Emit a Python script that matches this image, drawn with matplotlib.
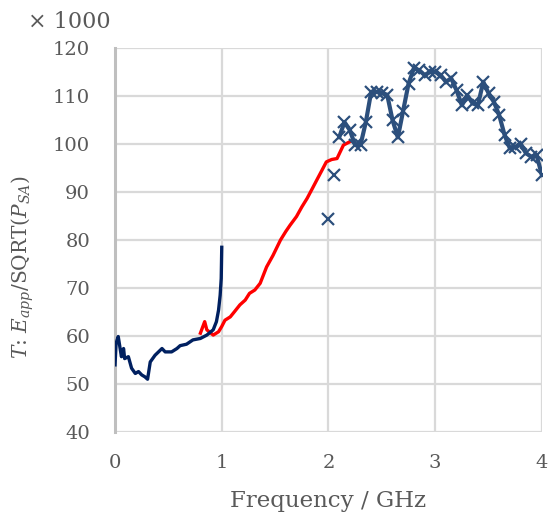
import matplotlib
matplotlib.use("Agg")
import matplotlib.pyplot as plt

plt.rcParams['font.family'] = ['DejaVu Serif']
plt.rcParams['mathtext.fontset'] = 'dejavuserif'

# Low-band measurement (0-1 GHz)
low_f = [0.00, 0.01, 0.03, 0.05, 0.06, 0.08, 0.09, 0.125, 0.155, 0.19, 0.22, 0.25,
         0.28, 0.305, 0.33, 0.375, 0.44, 0.47, 0.53, 0.58, 0.61, 0.67, 0.73, 0.80,
         0.86, 0.92, 0.95, 0.97, 0.985, 0.995, 1.00]
low_v = [54.0, 58.5, 59.9, 57.1, 55.7, 57.4, 55.3, 55.7, 53.3, 52.2, 52.6, 51.9,
         51.5, 51.0, 54.6, 56.0, 57.4, 56.7, 56.7, 57.4, 58.0, 58.3, 59.2, 59.5,
         60.2, 61.3, 63.0, 65.4, 68.5, 72.0, 78.5]

# Mid-band measurement (0.8-2.2 GHz)
mid_f = [0.80, 0.84, 0.86, 0.92, 0.97, 1.00, 1.03, 1.08, 1.12, 1.17, 1.22, 1.26,
         1.31, 1.36, 1.42, 1.48, 1.55, 1.60, 1.64, 1.70, 1.75, 1.80, 1.85, 1.89,
         1.94, 1.98, 2.03, 2.08, 2.14, 2.20]
mid_v = [60.6, 63.0, 61.3, 60.2, 60.9, 62.0, 63.3, 64.0, 65.1, 66.5, 67.5, 68.9,
         69.6, 71.0, 74.4, 76.8, 80.0, 81.8, 83.1, 84.9, 86.9, 88.7, 90.8, 92.5,
         94.6, 96.3, 96.8, 97.0, 99.8, 100.5]

# High-band measurement (2-4 GHz), 50 MHz steps
high_f = [2.00, 2.05, 2.10, 2.15, 2.20, 2.25, 2.30, 2.35, 2.40, 2.45, 2.50, 2.55,
          2.60, 2.65, 2.70, 2.75, 2.80, 2.85, 2.90, 2.95, 3.00, 3.05, 3.10, 3.15,
          3.20, 3.25, 3.30, 3.35, 3.40, 3.45, 3.50, 3.55, 3.60, 3.65, 3.70, 3.75,
          3.80, 3.85, 3.90, 3.95, 4.00]
high_v = [84.4, 93.5, 101.4, 104.6, 102.9, 99.8, 99.8, 104.6, 110.9, 110.9, 110.6, 110.3,
          105.0, 101.4, 107.0, 112.6, 115.8, 115.4, 114.4, 115.0, 115.1, 114.4, 113.0, 113.7,
          111.2, 108.1, 110.2, 108.5, 108.1, 113.0, 110.6, 108.8, 106.0, 101.9, 99.1, 99.4,
          100.1, 98.1, 97.4, 97.7, 93.5]
high_line_start = 2  # trace drawn from 2.10 GHz onward

x_ticks = [0, 1, 2, 3, 4]
y_ticks = [40, 50, 60, 70, 80, 90, 100, 110, 120]

fig = plt.figure(figsize=(5.53, 5.18), dpi=100)
ax = fig.add_axes([0.208, 0.166, 0.772, 0.741])

ax.plot(high_f[high_line_start:], high_v[high_line_start:], color='#2C4F7C', lw=3.0,
        solid_joinstyle='round', solid_capstyle='round', zorder=3)
ax.plot(high_f, high_v, linestyle='none', marker='x', ms=9, mew=1.6,
        color='#2C4F7C', zorder=4)
ax.plot(mid_f, mid_v, color='#FF0000', lw=2.4, solid_joinstyle='round', zorder=2)
ax.plot(low_f, low_v, color='#002060', lw=2.4, solid_joinstyle='round', zorder=3)

ax.set_xlim(0, 4)
ax.set_ylim(40, 120)
ax.set_xticks(x_ticks)
ax.set_yticks(y_ticks)
ax.grid(True, color='#D9D9D9', lw=1.6, zorder=0)
ax.set_axisbelow(True)
for side in ('top', 'right', 'bottom'):
    ax.spines[side].set_visible(False)
ax.spines['left'].set_color('#BFBFBF')
ax.spines['left'].set_linewidth(2.2)
ax.tick_params(axis='both', length=0, labelsize=14, labelcolor='#595959')
ax.tick_params(axis='y', pad=18)
ax.tick_params(axis='x', pad=16)

ax.set_xlabel('Frequency / GHz', fontsize=16.5, color='#595959')
ax.xaxis.set_label_coords(0.5, -0.151)
ax.set_ylabel(r'$T$: $E_{app}$/SQRT($P_{SA}$)', fontsize=14.5, color='#595959')
ax.yaxis.set_label_coords(-0.185, 0.43)
fig.text(0.05, 0.957, '× 1000', fontsize=16, color='#595959', ha='left', va='center')

fig.savefig('out.png', dpi=100)
